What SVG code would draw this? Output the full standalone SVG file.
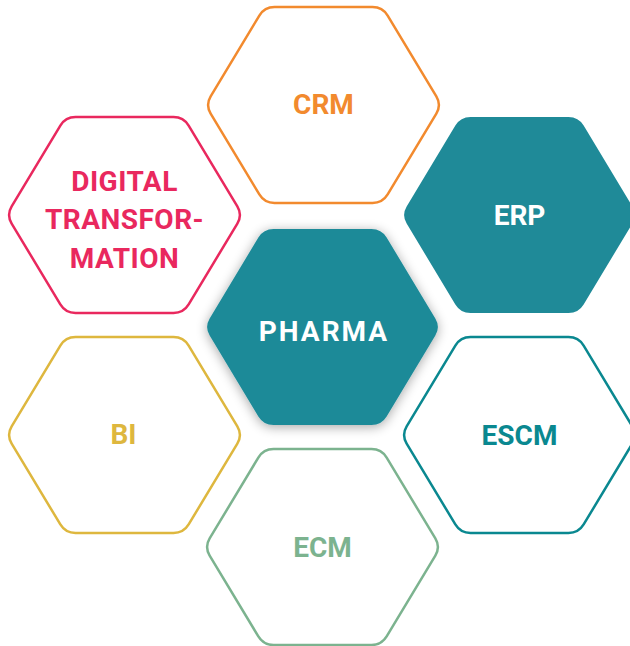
<svg xmlns="http://www.w3.org/2000/svg" xmlns:xlink="http://www.w3.org/1999/xlink" width="630" height="646" viewBox="0 0 630 646">
<style>
.lbl{font-family:Roboto,"Liberation Sans",Arial,sans-serif;font-weight:700;font-size:28px;text-anchor:middle}
.ol{fill:#fff;stroke-width:2.5}
</style>
<defs>
<path id="hex" d="M49,-98 Q59,-98 64.16,-89.43 L112.84,-8.57 Q118,0 112.84,8.57 L64.16,89.43 Q59,98 49,98 L-49,98 Q-59,98 -64.16,89.43 L-112.84,8.57 Q-118,0 -112.84,-8.57 L-64.16,-89.43 Q-59,-98 -49,-98 Z"/>
<filter id="sh" x="-30%" y="-30%" width="160%" height="160%">
<feGaussianBlur in="SourceAlpha" stdDeviation="6"/>
<feOffset dx="0" dy="2"/>
<feComponentTransfer><feFuncA type="linear" slope="0.35"/></feComponentTransfer>
<feMerge><feMergeNode/><feMergeNode in="SourceGraphic"/></feMerge>
</filter>
</defs>
<g id="connectors"></g>
<g id="crm">
<use xlink:href="#hex" x="323.5" y="105" class="ol" stroke="#F28A2E"/>
<text x="323.5" y="114" class="lbl" fill="#F28A2E">CRM</text>
</g>
<g id="digital">
<use xlink:href="#hex" x="124.5" y="215" class="ol" stroke="#E9285E"/>
<text class="lbl" fill="#E9285E" letter-spacing="0.5"><tspan x="124.5" y="191">DIGITAL</tspan><tspan x="124.5" y="229">TRANSFOR-</tspan><tspan x="124.5" y="268">MATION</tspan></text>
</g>
<g id="erp">
<use xlink:href="#hex" x="519.5" y="215" fill="#1F8A98"/>
<text x="519.5" y="225" class="lbl" fill="#fff">ERP</text>
</g>
<g id="bi">
<use xlink:href="#hex" x="124.5" y="435" class="ol" stroke="#DEB73E"/>
<text x="123.5" y="444" class="lbl" fill="#DEB73E">BI</text>
</g>
<g id="escm">
<use xlink:href="#hex" x="519.5" y="435" class="ol" stroke="#0A8890"/>
<text x="519.5" y="445" class="lbl" fill="#0A8890">ESCM</text>
</g>
<g id="ecm">
<use xlink:href="#hex" x="322.5" y="547" class="ol" stroke="#7CB38F"/>
<text x="322.5" y="557" class="lbl" fill="#7CB38F">ECM</text>
</g>
<g id="pharma">
<use xlink:href="#hex" x="322.5" y="327" fill="#1F8A98" filter="url(#sh)"/>
<text x="324" y="341" class="lbl" fill="#fff" letter-spacing="2">PHARMA</text>
</g>
</svg>
